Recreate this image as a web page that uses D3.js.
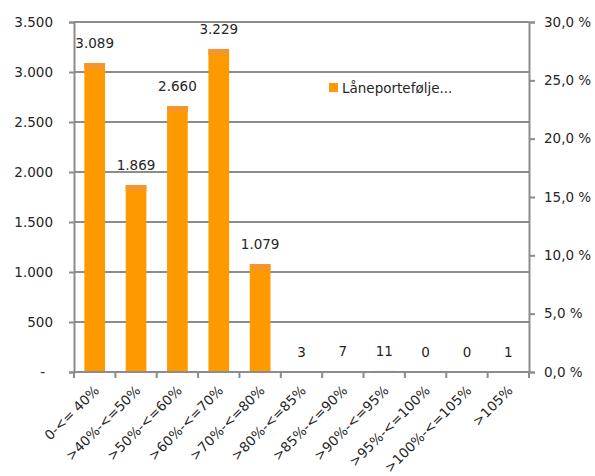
<!DOCTYPE html>
<html>
<head>
<meta charset="utf-8">
<script src="https://cdn.jsdelivr.net/npm/d3@7"></script>
<style>
  body { margin: 0; background: #fff; }
  text { font-family: "DejaVu Sans", "Open Sans", sans-serif; fill: #262626; }
</style>
</head>
<body>
<div id="chart"></div>
<script>
// chart data
var categories = ["0-<= 40%", ">40%-<=50%", ">50%-<=60%", ">60%-<=70%", ">70%-<=80%", ">80%-<=85%",
    ">85%-<=90%", ">90%-<=95%", ">95%-<=100%", ">100%-<=105%", ">105%"];
var loanValues = [3089, 1869, 2660, 3229, 1079, 3, 7, 11, 0, 0, 1];
var leftTicks = [0, 500, 1000, 1500, 2000, 2500, 3000, 3500];
var rightTicks = [0, 0.05, 0.10, 0.15, 0.20, 0.25, 0.30];
var seriesName = "Låneportefølje...";

var svgWidth = 595;
var svgHeight = 476;

var margins = { top: 22, bottom: 104, left: 74, right: 66 };
var width = svgWidth - margins.left - margins.right;
var height = svgHeight - margins.top - margins.bottom;

var svg = d3.select("#chart").append("svg").attr("width", svgWidth).attr("height", svgHeight);
var chartGroup = svg.append("g").attr("transform", `translate(${margins.left},${margins.top})`);

var gridColor = "#8c8c8c";
var fontSize = "13.5px";
var fmt = d3.formatLocale({ decimal: ",", thousands: ".", grouping: [3], currency: ["", ""] });
var numFmt = fmt.format(",d");
var pctFmt = function(v) { return fmt.format(".1f")(v * 100) + " %"; };

// scales
var xScale = d3.scaleBand().domain(categories).range([0, width]).paddingInner(0.5).paddingOuter(0.25);
var yLeft = d3.scaleLinear().domain([0, 3500]).range([height, 0]);
var yRight = d3.scaleLinear().domain([0, 0.30]).range([height, 0]);

// gridlines
chartGroup.append("g").selectAll("line")
    .data(leftTicks.slice(1))
    .enter()
    .append("line")
    .attr("x1", 0)
    .attr("x2", width)
    .attr("y1", d => yLeft(d))
    .attr("y2", d => yLeft(d))
    .attr("stroke", gridColor)
    .attr("stroke-width", 2);

// bars
var bars = chartGroup.append("g").selectAll("g")
    .data(loanValues)
    .enter()
    .append("g");

bars.append("rect")
    .attr("x", (d, i) => xScale(categories[i]))
    .attr("y", d => yLeft(d))
    .attr("width", xScale.bandwidth())
    .attr("height", d => height - yLeft(d))
    .attr("fill", "#ff9900");

// slightly darker cap on the tall bars
bars.filter(d => d > 100).append("rect")
    .attr("x", d => xScale(categories[loanValues.indexOf(d)]))
    .attr("y", d => yLeft(d))
    .attr("width", xScale.bandwidth())
    .attr("height", 6)
    .attr("fill", "#f5962a");

// data labels
chartGroup.append("g").selectAll("text")
    .data(loanValues)
    .enter()
    .append("text")
    .attr("x", (d, i) => xScale(categories[i]) + xScale.bandwidth() / 2)
    .attr("y", d => yLeft(d) - 15)
    .attr("text-anchor", "middle")
    .style("font-size", fontSize)
    .text(d => numFmt(d));

// left axis
var leftAxis = d3.axisLeft(yLeft).tickValues(leftTicks).tickSize(5).tickPadding(16)
    .tickFormat(d => d === 0 ? "-" : numFmt(d));
var yAxisL = chartGroup.append("g").call(leftAxis);

// right axis
var rightAxis = d3.axisRight(yRight).tickValues(rightTicks).tickSize(6).tickPadding(9).tickFormat(pctFmt);
var yAxisR = chartGroup.append("g").attr("transform", `translate(${width},0)`).call(rightAxis);

// bottom axis, tick marks at band edges
var xAxis = chartGroup.append("g").attr("transform", `translate(0,${height})`);
xAxis.append("line").attr("x1", 0).attr("x2", width).attr("stroke", gridColor).attr("stroke-width", 2);
var step = xScale.step();
xAxis.selectAll("line.tick")
    .data(d3.range(categories.length + 1))
    .enter()
    .append("line")
    .attr("class", "tick")
    .attr("x1", i => i * step)
    .attr("x2", i => i * step)
    .attr("y1", 0)
    .attr("y2", 6)
    .attr("stroke", gridColor)
    .attr("stroke-width", 2);

xAxis.selectAll("text")
    .data(categories)
    .enter()
    .append("text")
    .attr("transform", d => `translate(${xScale(d) + xScale.bandwidth() / 2 + 2},${16}) rotate(-45)`)
    .attr("text-anchor", "end")
    .attr("dy", "0.35em")
    .style("font-size", fontSize)
    .text(d => d);

[yAxisL, yAxisR].forEach(function(ax) {
    ax.select(".domain").attr("stroke", gridColor).attr("stroke-width", 2);
    ax.selectAll(".tick line").attr("stroke", gridColor).attr("stroke-width", 2);
    ax.selectAll(".tick text").style("font-size", fontSize).attr("fill", "#262626");
});
yAxisL.selectAll(".tick text").filter(d => d === 0).attr("dx", -8);

// legend
var legend = svg.append("g").attr("transform", "translate(329,83)");
legend.append("rect").attr("width", 9).attr("height", 9).attr("fill", "#ff9900");
legend.append("text").attr("x", 13).attr("y", 9.5).style("font-size", fontSize).text(seriesName);
</script>
</body>
</html>
